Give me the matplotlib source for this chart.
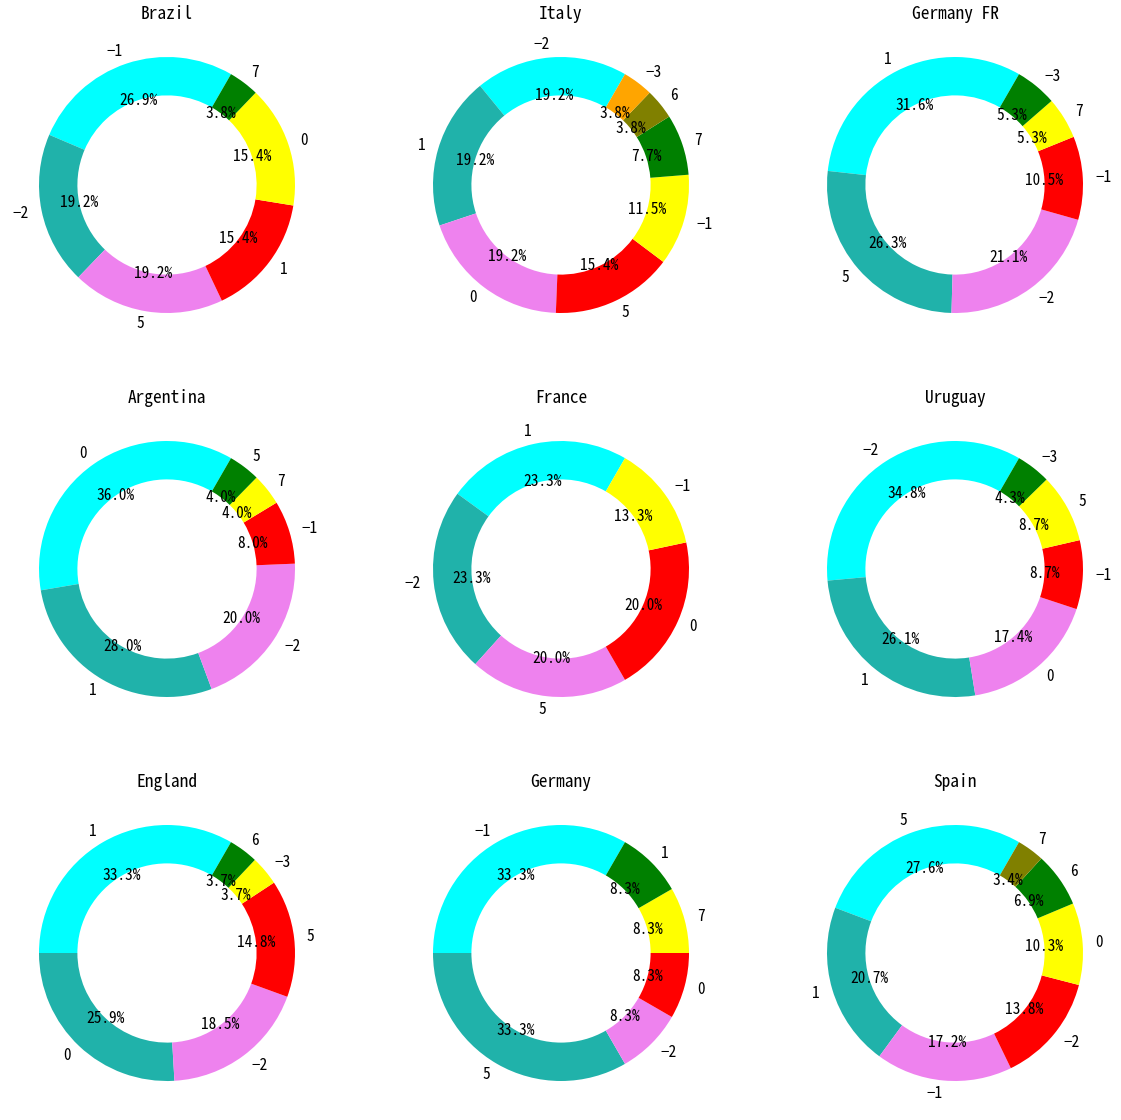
import numpy as np
import matplotlib
matplotlib.use('Agg')
import matplotlib.pyplot as plt

plt.rcParams['font.family'] = ['Noto Sans Mono CJK SC', 'Noto Sans CJK SC', 'DejaVu Sans']

teams = ['Brazil', 'Italy', 'Germany FR',
         'Argentina', 'France', 'Uruguay',
         'England', 'Germany', 'Spain']

# value counts per team, largest first
brazil_labels = [-1, -2, 5, 1, 0, 7]
brazil_counts = [7, 5, 5, 4, 4, 1]
italy_labels = [-2, 1, 0, 5, -1, 7, 6, -3]
italy_counts = [5, 5, 5, 4, 3, 2, 1, 1]
germany_fr_labels = [1, 5, -2, -1, 7, -3]
germany_fr_counts = [6, 5, 4, 2, 1, 1]
argentina_labels = [0, 1, -2, -1, 7, 5]
argentina_counts = [9, 7, 5, 2, 1, 1]
france_labels = [1, -2, 5, 0, -1]
france_counts = [7, 7, 6, 6, 4]
uruguay_labels = [-2, 1, 0, -1, 5, -3]
uruguay_counts = [8, 6, 4, 2, 2, 1]
england_labels = [1, 0, -2, 5, -3, 6]
england_counts = [9, 7, 5, 4, 1, 1]
germany_labels = [-1, 5, -2, 0, 7, 1]
germany_counts = [4, 4, 1, 1, 1, 1]
spain_labels = [5, 1, -1, -2, 0, 6, 7]
spain_counts = [8, 6, 5, 4, 3, 2, 1]

all_labels = [brazil_labels, italy_labels, germany_fr_labels,
              argentina_labels, france_labels, uruguay_labels,
              england_labels, germany_labels, spain_labels]
all_counts = [brazil_counts, italy_counts, germany_fr_counts,
              argentina_counts, france_counts, uruguay_counts,
              england_counts, germany_counts, spain_counts]

colors = ['cyan', 'lightseagreen', 'violet', 'red', 'yellow', 'green', 'olive', 'orange']

W, H = 1121, 1120
fig = plt.figure(figsize=(W / 100, H / 100), dpi=100)

col_x = [167, 561, 955]
row_y = [185, 569, 953]
half = 160  # px, axes half size (pie limits are +-1.25)

for i, team in enumerate(teams):
    cx = col_x[i % 3]
    cy = row_y[i // 3]
    ax = fig.add_axes([(cx - half) / W, 1 - (cy + half) / H, 2 * half / W, 2 * half / H])
    cnt = all_counts[i]
    labs = [str(l).replace('-', '\u2212') for l in all_labels[i]]
    ax.pie(cnt, labels=labs, colors=colors[:len(cnt)],
           autopct='%.1f%%', pctdistance=0.7, startangle=60,
           wedgeprops=dict(width=0.3), textprops=dict(fontsize=11))
    ax.set_title(team, fontsize=12.5, pad=4)

fig.savefig('out.png', dpi=100)
